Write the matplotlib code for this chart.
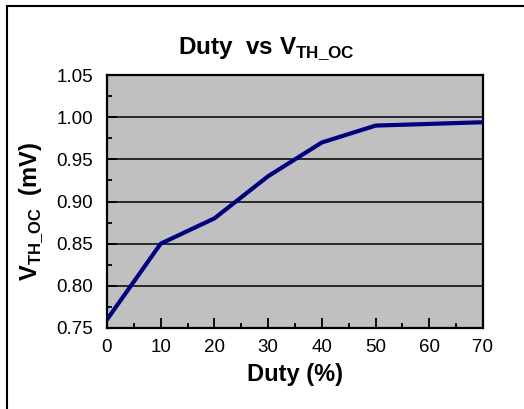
import numpy as np
import matplotlib.pyplot as plt
from matplotlib.patches import Rectangle
from matplotlib.ticker import MultipleLocator

plt.rcParams['font.family'] = ['Liberation Sans', 'DejaVu Sans']
plt.rcParams['mathtext.fontset'] = 'custom'
plt.rcParams['mathtext.rm'] = 'Liberation Sans'
plt.rcParams['mathtext.bf'] = 'Liberation Sans:bold'

duty = [0, 10, 20, 30, 40, 50, 60, 70]
vth = [0.76, 0.85, 0.88, 0.93, 0.97, 0.99, 0.992, 0.994]
x_ticks = [0, 10, 20, 30, 40, 50, 60, 70]
y_ticks = [0.75, 0.80, 0.85, 0.90, 0.95, 1.00, 1.05]

fig = plt.figure(figsize=(5.24, 4.09), dpi=100)
# outer frame
fig.patches.append(Rectangle((7 / 524, -0.1), 1.2, (409 - 6) / 409 + 0.1,
                             transform=fig.transFigure, fill=False,
                             edgecolor='black', linewidth=1.5))
ax = fig.add_axes([107 / 524, 81 / 409, 376 / 524, 253 / 409])
ax.set_facecolor('#C0C0C0')
ax.plot(duty, vth, color='#000080', linewidth=3, solid_joinstyle='round', zorder=3)
for y in y_ticks[1:-1]:
    ax.axhline(y, color='black', linewidth=1.1, zorder=2)
ax.set_xlim(0, 70)
ax.set_ylim(0.75, 1.05)
ax.set_xticks(x_ticks)
ax.set_yticks(y_ticks)
ax.set_yticklabels([f"{v:.2f}" for v in y_ticks])
ax.xaxis.set_minor_locator(MultipleLocator(5))
ax.yaxis.set_minor_locator(MultipleLocator(0.025))
ax.tick_params(which='both', direction='in', labelsize=13.5, width=1.3, top=False, right=False)
ax.tick_params(which='major', length=7, pad=8)
ax.tick_params(which='minor', length=3.5)
ax.tick_params(axis='y', which='major', pad=10)
for s in ax.spines.values():
    s.set_linewidth(1.6)
ax.set_xlabel("Duty (%)", fontsize=17, fontweight='bold', labelpad=5)
ax.set_ylabel(r"V$_{\mathbf{TH\_OC}}$  (mV)", fontsize=17, fontweight='bold')
ax.yaxis.set_label_coords(-0.165, 0.46)
ax.set_title(r"Duty  vs V$_{\mathbf{TH\_OC}}$", fontsize=17.5, fontweight='bold',
             x=0.423, pad=15)
fig.savefig("out.png", dpi=100)
